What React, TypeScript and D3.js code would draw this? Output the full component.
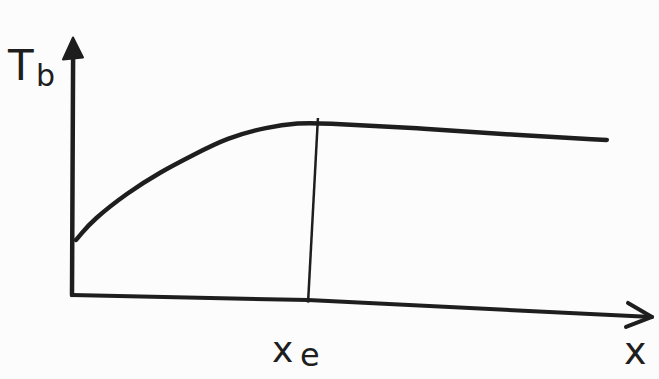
import React, { useEffect } from 'react';
import * as d3 from 'd3';

// sketch readings, in plot units (x 0..10, y 0..10)
const curveX = [0.07, 0.14, 0.36, 0.95, 1.52, 2.09, 2.67, 3.36, 3.93, 4.24, 5.95, 7.67, 9.22];
const curveY = [2.16, 2.35, 2.94, 4.0, 4.82, 5.49, 6.16, 6.59, 6.75, 6.75, 6.55, 6.27, 6.08];
const xAxisX = [0, 4.07, 10];
const xAxisY = [0, -0.2, -0.86];
const xeX = [4.24, 4.07];
const xeY = [6.94, -0.3];
const yAxisTop = 10.1;

const W = 659;
const H = 379;

const App = () => {
    useEffect(() => {
        document.body.style.margin = '0';
    }, []);

    const x = d3.scaleLinear().domain([0, 10]).range([72, 652]);
    const y = d3.scaleLinear().domain([0, 10]).range([295, 40]);
    const ink = '#1e1e1e';

    const curve = d3
        .line<number>()
        .x((d) => x(curveX[d]))
        .y((d) => y(curveY[d]))
        .curve(d3.curveBasis);

    const straight = d3
        .line<[number, number]>()
        .x((d) => x(d[0]))
        .y((d) => y(d[1]));

    const xAxisPts: [number, number][] = xAxisX.map((v, i) => [v, xAxisY[i]]);
    const xePts: [number, number][] = xeX.map((v, i) => [v, xeY[i]]);

    const tipX = x(10);
    const tipY = y(-0.86);
    const topY = y(yAxisTop);
    const ax = x(0);

    return (
        <svg width={W} height={H} style={{ display: 'block', background: '#fcfcfc' }}>
            {/* y axis */}
            <path d={straight([[0, 0], [0.02, yAxisTop - 0.3]]) || ''} stroke={ink} strokeWidth={4.5} fill="none" strokeLinecap="round" />
            <path d={`M${ax - 9},${topY + 22} L${ax + 1},${topY} L${ax + 11},${topY + 20} Z`} fill={ink} stroke={ink} strokeWidth={2} strokeLinejoin="round" />
            {/* x axis */}
            <path d={straight(xAxisPts) || ''} stroke={ink} strokeWidth={4} fill="none" strokeLinecap="round" />
            <path d={`M${tipX - 24},${tipY - 14} L${tipX},${tipY} L${tipX - 26},${tipY + 10}`} stroke={ink} strokeWidth={4} fill="none" strokeLinecap="round" strokeLinejoin="round" />
            {/* curve */}
            <path d={curve(d3.range(curveX.length)) || ''} stroke={ink} strokeWidth={4.5} fill="none" strokeLinecap="round" />
            {/* xe marker */}
            <path d={straight(xePts) || ''} stroke={ink} strokeWidth={2.5} fill="none" />
            {/* labels */}
            <text x={8} y={80} fontFamily="DejaVu Sans" fontSize={42} fill={ink}>T</text>
            <text x={36} y={86} fontFamily="DejaVu Sans" fontSize={30} fill={ink}>b</text>
            <text x={272} y={362} fontFamily="DejaVu Sans" fontSize={36} fill={ink}>x</text>
            <text x={300} y={366} fontFamily="DejaVu Sans" fontSize={32} fill={ink}>e</text>
            <text x={624} y={364} fontFamily="DejaVu Sans" fontSize={38} fill={ink}>x</text>
        </svg>
    );
};

export default App;
